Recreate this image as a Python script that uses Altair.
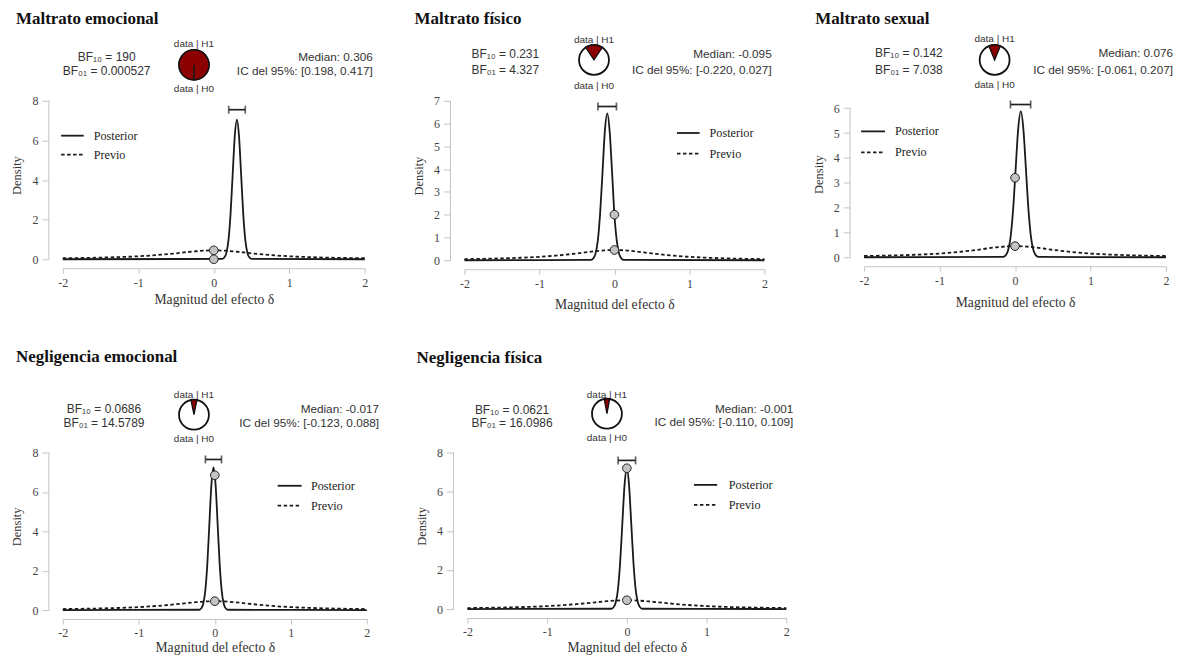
import math
import altair as alt
import pandas as pd

# ---------------- data ----------------
panel_titles = ["Maltrato emocional", "Maltrato físico", "Maltrato sexual",
                "Negligencia emocional", "Negligencia física"]
bf10_values = [190, 0.231, 0.142, 0.0686, 0.0621]
bf10_labels = ["190", "0.231", "0.142", "0.0686", "0.0621"]
bf01_labels = ["0.000527", "4.327", "7.038", "14.5789", "16.0986"]
median_labels = ["0.306", "-0.095", "0.076", "-0.017", "-0.001"]
ci_low = [0.198, -0.220, -0.061, -0.123, -0.110]
ci_high = [0.417, 0.027, 0.207, 0.088, 0.109]
ci_bar_height = [7.55, 6.75, 6.15, 7.65, 7.6]
x_tick_values = [-2, -1, 0, 1, 2]
y_tick_values = [[0, 2, 4, 6, 8], [0, 1, 2, 3, 4, 5, 6, 7], [0, 1, 2, 3, 4, 5, 6],
                 [0, 2, 4, 6, 8], [0, 2, 4, 6, 8]]

prior_x = [-2, -1.75, -1.5, -1.25, -1, -0.75, -0.5, -0.25, -0.125, 0,
           0.125, 0.25, 0.5, 0.75, 1, 1.25, 1.5, 1.75, 2]
prior_y = [0.05, 0.063, 0.082, 0.109, 0.15, 0.212, 0.30, 0.40, 0.436, 0.45,
           0.436, 0.40, 0.30, 0.212, 0.15, 0.109, 0.082, 0.063, 0.05]

posterior_x = [
    [-2, 0.110, 0.138, 0.166, 0.194, 0.222, 0.250, 0.278, 0.306, 0.334, 0.362, 0.390, 0.418, 0.446, 0.474, 0.502, 2],
    [-2, -0.316, -0.284, -0.253, -0.221, -0.190, -0.158, -0.127, -0.095, -0.064, -0.032, 0.000, 0.031, 0.063, 0.094, 0.126, 2],
    [-2, -0.162, -0.128, -0.094, -0.060, -0.026, 0.008, 0.042, 0.076, 0.110, 0.144, 0.178, 0.212, 0.246, 0.280, 0.314, 2],
    [-2, -0.206, -0.179, -0.152, -0.125, -0.098, -0.071, -0.044, -0.017, 0.010, 0.037, 0.064, 0.091, 0.118, 0.145, 0.172, 2],
    [-2, -0.197, -0.169, -0.141, -0.113, -0.085, -0.057, -0.029, -0.001, 0.027, 0.055, 0.083, 0.111, 0.139, 0.167, 0.195, 2],
]
posterior_y = [
    [0, 0.02, 0.08, 0.31, 0.95, 2.29, 4.28, 6.22, 7.05, 6.22, 4.28, 2.29, 0.95, 0.31, 0.08, 0.02, 0],
    [0, 0.014, 0.07, 0.28, 0.87, 2.09, 3.91, 5.69, 6.45, 5.69, 3.91, 2.00, 0.87, 0.28, 0.07, 0.014, 0],
    [0, 0.013, 0.065, 0.26, 0.79, 1.91, 3.56, 5.18, 5.87, 5.18, 3.56, 1.91, 0.79, 0.26, 0.065, 0.013, 0],
    [0, 0.016, 0.08, 0.32, 0.98, 2.35, 4.40, 6.40, 7.25, 6.40, 4.40, 2.35, 0.98, 0.32, 0.08, 0.016, 0],
    [0, 0.016, 0.08, 0.32, 0.97, 2.34, 4.37, 6.35, 7.20, 6.35, 4.37, 2.34, 0.97, 0.32, 0.08, 0.016, 0],
]
prior_at_zero = [0.45, 0.45, 0.45, 0.45, 0.45]
posterior_at_zero = [0.0, 2.0, 3.2, 6.85, 7.2]

legend_labels = ["Posterior", "Previo"]
x_axis_title = "Magnitud del efecto δ"
y_axis_title = "Density"

# ---------------- layout / style ----------------
SANS = "Liberation Sans"
SERIF = "Liberation Serif"
AXC = "#C4C4C4"
INK = "#1a1a1a"
TXT = "#333333"

W = [303, 301, 303, 305, 320]
H = [159, 160, 157, 158, 157]
Y_TOP = [8, 7, 6.3, 8, 8]
Y_OFF = 14
X_OFF = 9

LAY = [
    dict(title=(-47, -90.5), bf_x=44, bf10_y=-44, bf01_y=-30.3, pie=(131.6, -36), h1_y=-56.7, h0_y=-11.7,
         med_x=311, med_y=-44, ic_y=-30.3, leg=(-1.7, 21, 31, 35, 54), xt=31, anchor=(-53.7, -91.5)),
    dict(title=(-50, -90.5), bf_x=41, bf10_y=-47, bf01_y=-31, pie=(130, -41), h1_y=-61, h0_y=-15,
         med_x=308.3, med_y=-47, ic_y=-31, leg=(213.3, 236, 246, 32.3, 53), xt=35),
    dict(title=(-49, -90.5), bf_x=45, bf10_y=-47.7, bf01_y=-31, pie=(131, -41), h1_y=-61.7, h0_y=-16,
         med_x=310, med_y=-47.7, ic_y=-31, leg=(-3, 21, 31, 30.7, 51.7), xt=36),
    dict(title=(-47, -103.5), bf_x=41.3, bf10_y=-43.3, bf01_y=-30, pie=(131.6, -38), h1_y=-57.3, h0_y=-14,
         med_x=317.3, med_y=-43.3, ic_y=-30, leg=(215.6, 239.6, 249, 33.3, 53.3), xt=29,
         anchor=(-54.7, -103.5)),
    dict(title=(-51, -103), bf_x=44.8, bf10_y=-42.6, bf01_y=-29.3, pie=(140, -39), h1_y=-57.6, h0_y=-15,
         med_x=327, med_y=-43.3, ic_y=-31, leg=(227.3, 250.6, 262.3, 32.4, 52.4), xt=30),
]

ONE = pd.DataFrame({"d": [0]})


def text_layer(t, x, y, align="center", font=SANS, size=11.8, weight="normal", color=TXT, baseline="middle"):
    return alt.Chart(pd.DataFrame({"t": [t]})).mark_text(
        align=align, baseline=baseline, font=font, fontSize=size, fontWeight=weight, color=color
    ).encode(x=alt.value(x), y=alt.value(y), text="t:N")


def build_panel(i):
    L = LAY[i]
    w, h = W[i], H[i]
    xs = alt.Scale(domain=[-2, 2], nice=False, zero=False)
    ys = alt.Scale(domain=[0, Y_TOP[i]], nice=False, zero=False)
    xax = alt.Axis(values=x_tick_values, labelExpr="'' + datum.value", offset=X_OFF, tickSize=5,
                   labelPadding=4, grid=False, domainColor=AXC, tickColor=AXC, domainWidth=1, tickWidth=1,
                   labelFont=SERIF, labelFontSize=12, labelColor="#444", labelFlush=False,
                   titleFont=SERIF, titleFontSize=13.7, titleFontWeight="normal", titleColor=TXT,
                   titleY=L["xt"], titleBaseline="middle")
    yax = alt.Axis(values=y_tick_values[i], labelExpr="'' + datum.value", offset=Y_OFF, tickSize=7,
                   labelPadding=4, grid=False, domain=False, tickColor=AXC, tickWidth=1,
                   labelFont=SERIF, labelFontSize=12, labelColor="#444", labelFlush=False,
                   titleFont=SERIF, titleFontSize=12.5, titleFontWeight="normal", titleColor=TXT,
                   titleX=-46 + Y_OFF, titleY=h / 2 - 5, titleBaseline="middle", titleAlign="center")

    def ex(f):
        return alt.X(f, type="quantitative", scale=xs, axis=xax, title=x_axis_title)

    def ey(f):
        return alt.Y(f, type="quantitative", scale=ys, axis=yax, title=y_axis_title)

    prior_df = pd.DataFrame({"x": prior_x, "y": prior_y})
    post_df = pd.DataFrame({"x": posterior_x[i], "y": posterior_y[i]})
    ci_df = pd.DataFrame({"lo": [ci_low[i]], "hi": [ci_high[i]], "cy": [ci_bar_height[i]]})
    cap_df = pd.DataFrame({"v": [ci_low[i], ci_high[i]], "cy": [ci_bar_height[i]] * 2})
    pts_df = pd.DataFrame({"x": [0, 0], "y": [prior_at_zero[i], posterior_at_zero[i]]})

    layers = []
    # y axis line from 0 to the last tick
    layers.append(alt.Chart(ONE).mark_rule(color=AXC, strokeWidth=1).encode(
        x=alt.value(-Y_OFF), y=alt.datum(0, type="quantitative", scale=ys, axis=yax, title=y_axis_title),
        y2=alt.datum(y_tick_values[i][-1])))
    layers.append(alt.Chart(prior_df).mark_line(color=INK, strokeWidth=1.8, strokeDash=[3.5, 2.5],
                                                interpolate="monotone").encode(x=ex("x"), y=ey("y")))
    layers.append(alt.Chart(post_df).mark_line(color=INK, strokeWidth=1.8,
                                               interpolate="monotone").encode(x=ex("x"), y=ey("y")))
    layers.append(alt.Chart(ci_df).mark_rule(color="#222", strokeWidth=1.7).encode(
        x=ex("lo"), x2="hi:Q", y=ey("cy")))
    layers.append(alt.Chart(cap_df).mark_tick(orient="vertical", size=8, thickness=1.7, color="#222").encode(
        x=ex("v"), y=ey("cy")))
    layers.append(alt.Chart(pts_df).mark_circle(size=75, color="#C3C3C3", stroke="#222", strokeWidth=1,
                                                opacity=1).encode(x=ex("x"), y=ey("y")))

    # legend
    lx1, lx2, ltx, ly1, ly2 = L["leg"]
    layers.append(alt.Chart(ONE).mark_rule(color=INK, strokeWidth=1.8).encode(
        x=alt.value(lx1), x2=alt.value(lx2), y=alt.value(ly1)))
    layers.append(alt.Chart(ONE).mark_rule(color=INK, strokeWidth=1.8, strokeDash=[3.5, 2.5]).encode(
        x=alt.value(lx1), x2=alt.value(lx2), y=alt.value(ly2)))
    layers.append(text_layer(legend_labels[0], ltx, ly1, align="left", font=SERIF, size=12.2, color="#222"))
    layers.append(text_layer(legend_labels[1], ltx, ly2, align="left", font=SERIF, size=12.2, color="#222"))

    # panel title
    tx, ty = L["title"]
    layers.append(text_layer(panel_titles[i], tx, ty, align="left", font=SERIF, size=17, weight="bold",
                             color="#111", baseline="top"))
    # Bayes factors
    layers.append(text_layer("BF\u2081\u2080 = " + bf10_labels[i], L["bf_x"], L["bf10_y"], size=12))
    layers.append(text_layer("BF\u2080\u2081 = " + bf01_labels[i], L["bf_x"], L["bf01_y"], size=12))
    # median / CI
    layers.append(text_layer("Median: " + median_labels[i], L["med_x"], L["med_y"], align="right"))
    ci_text = f"IC del 95%: [{ci_low[i]:.3f}, {ci_high[i]:.3f}]"
    layers.append(text_layer(ci_text, L["med_x"], L["ic_y"], align="right"))
    # pie
    px, py = L["pie"]
    layers.append(text_layer("data | H1", px, L["h1_y"], size=10))
    layers.append(text_layer("data | H0", px, L["h0_y"], size=10))
    p = bf10_values[i] / (1 + bf10_values[i])
    layers.append(alt.Chart(ONE).mark_arc(radius=15, fill="white", stroke="#111", strokeWidth=1.8).encode(
        x=alt.value(px), y=alt.value(py), theta=alt.value(0), theta2=alt.value(2 * math.pi)))
    layers.append(alt.Chart(ONE).mark_arc(radius=15, fill="#8B0000", stroke="#111", strokeWidth=1.3).encode(
        x=alt.value(px), y=alt.value(py), theta=alt.value(2 * math.pi - math.pi * p),
        theta2=alt.value(2 * math.pi + math.pi * p)))

    if "anchor" in L:
        # invisible anchor fixing the left/top edge of the row layout
        ax, ay = L["anchor"]
        layers.append(alt.Chart(ONE).mark_rule(opacity=0, strokeWidth=0.01).encode(
            x=alt.value(ax), x2=alt.value(ax + 0.1), y=alt.value(ay), y2=alt.value(ay + 0.1)))

    return alt.layer(*layers).properties(width=w, height=h)


panels = [build_panel(i) for i in range(5)]

row1 = alt.hconcat(panels[0], panels[1], panels[2], spacing=100, bounds="flush")
row2 = alt.hconcat(panels[3], panels[4], spacing=101, bounds="flush")

chart = alt.vconcat(row1, row2, spacing=37).properties(
    padding=0, background="white"
).configure_view(stroke=None)

chart.save("out.html", embed_options={"renderer": "svg", "actions": False})
